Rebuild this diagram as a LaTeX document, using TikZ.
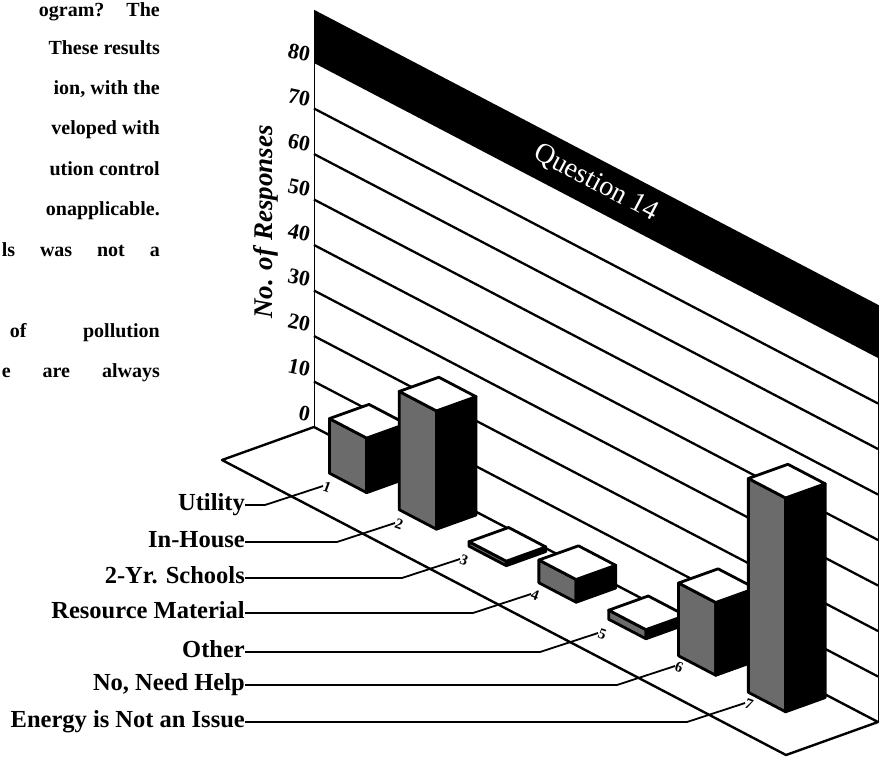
\documentclass[tikz,border=0pt]{standalone}
\usepackage{fontspec}
\setmainfont{Liberation Serif}
\usetikzlibrary{calc}
\newcommand\chartbar[2]{%
  \pgfmathsetmacro\barSa{#1}\pgfmathsetmacro\barSb{#1+0.066}%
  \filldraw[barline,fill=black!58] (\barSa,0,0.47) -- (\barSb,0,0.47) -- (\barSb,#2,0.47) -- (\barSa,#2,0.47) -- cycle;
  \filldraw[barline,fill=black] (\barSb,0,0.47) -- (\barSb,0,0.04) -- (\barSb,#2,0.04) -- (\barSb,#2,0.47) -- cycle;
  \filldraw[barline,fill=white] (\barSa,#2,0.47) -- (\barSb,#2,0.47) -- (\barSb,#2,0.04) -- (\barSa,#2,0.04) -- cycle;
}
\begin{document}
\begin{tikzpicture}[x=1pt,y=-1pt,
  gridln/.style={line width=2.3pt},
  wallln/.style={line width=0.9pt},
  floorln/.style={line width=2.4pt,line join=round},
  barline/.style={draw=black,line width=2.8pt,line join=round},
  labtxt/.style={font=\bfseries\fontsize{24.5}{24.5}\selectfont,anchor=east,inner sep=0pt,text height=17pt,text depth=6pt},
  bodytxt/.style={font=\bfseries\fontsize{20}{20}\selectfont,anchor=base east,inner sep=0pt},
  numtxt/.style={font=\bfseries\fontsize{22}{22}\selectfont,anchor=east,inner sep=0pt,rotate=-12},
  tagtxt/.style={font=\bfseries\fontsize{15}{15}\selectfont,anchor=west,inner sep=0.5pt,rotate=-20},
  leader/.style={line width=1.8pt,line join=round},
]
\useasboundingbox (0,0) rectangle (888,756);
\fill[white] (0,0) rectangle (888,756);

% body text fragments
\node[bodytxt] (p1) at (160,16) {ogram?\hspace{22pt}The};
\node[bodytxt] (p2) at (160,54) {These results};
\node[bodytxt] (p3) at (160,94) {ion, with the};
\node[bodytxt] (p4) at (160,134.5) {veloped with};
\node[bodytxt] (p5) at (160,175) {ution control};
\node[bodytxt] (p6) at (160,215.5) {onapplicable.};
\node[bodytxt] (p7) at (160,256) {\makebox[158pt][s]{ls was not a}};
\node[bodytxt] (p8) at (160,337) {\makebox[150pt][s]{of pollution}};
\node[bodytxt] (p9) at (160,377.5) {\makebox[158pt][s]{e are always}};

% chart
\begin{scope}[shift={(314,427)},x={(564pt,-295pt)},y={(0pt,4.55pt)},z={(-92pt,-33pt)}]
  \fill (0,80,0) -- (1,80,0) -- (1,91.7,0) -- (0,91.7,0) -- cycle;
  \node[white,font=\fontsize{28}{28}\selectfont,rotate=-27.6,inner sep=0pt] (qt) at (0.5,86,0) {Question 14};
  \foreach \val in {10,20,...,70} \draw[gridln] (0,\val,0) -- (1,\val,0);
  \draw[wallln] (0,0,0) -- (0,91.7,0);
  \draw[wallln] (1,0,0) -- (1,91.7,0);
  \draw[floorln] (0,0,0) -- (1,0,0) -- (1,0,1) -- (0,0,1) -- cycle;
  \chartbar{0.104}{12}
  \chartbar{0.2278}{26}
  \chartbar{0.3516}{1}
  \chartbar{0.4754}{5}
  \chartbar{0.5992}{2}
  \chartbar{0.723}{16}
  \chartbar{0.8468}{47}
\end{scope}

% axis numbers and title
\foreach \val in {0,10,...,80} \node[numtxt] (n\val) at (310,{415-4.5*\val}) {\val};
\node[font=\bfseries\itshape\fontsize{27}{27}\selectfont,rotate=90,inner sep=0pt] (ytitle) at (266,222) {No. of Responses};

% leaders
\coordinate (e1) at (323,486); \coordinate (c1) at (265,505);
\coordinate (e2) at (395,523); \coordinate (c2) at (337,542);
\coordinate (e3) at (460,559); \coordinate (c3) at (402,578);
\coordinate (e4) at (531,594); \coordinate (c4) at (473,613);
\coordinate (e5) at (598,633); \coordinate (c5) at (540,652);
\coordinate (e6) at (675,666); \coordinate (c6) at (617,685);
\coordinate (e7) at (745,703); \coordinate (c7) at (687,722);
\node[tagtxt] (t1) at (e1) {1};
\node[tagtxt] (t2) at (e2) {2};
\node[tagtxt] (t3) at (e3) {3};
\node[tagtxt] (t4) at (e4) {4};
\node[tagtxt] (t5) at (e5) {5};
\node[tagtxt] (t6) at (e6) {6};
\node[tagtxt] (t7) at (e7) {7};
\node[labtxt] (l1) at (245,505) {Utility};
\node[labtxt] (l2) at (245,542) {In-House};
\node[labtxt] (l3) at (245,578) {2-Yr. Schools};
\node[labtxt] (l4) at (245,613) {Resource Material};
\node[labtxt] (l5) at (245,652) {Other};
\node[labtxt] (l6) at (245,685) {No, Need Help};
\node[labtxt] (l7) at (245,722) {Energy is Not an Issue};
\foreach \i in {1,...,7} \draw[leader] (l\i.east) -- (c\i) -- (t\i.west);
\end{tikzpicture}
\end{document}
